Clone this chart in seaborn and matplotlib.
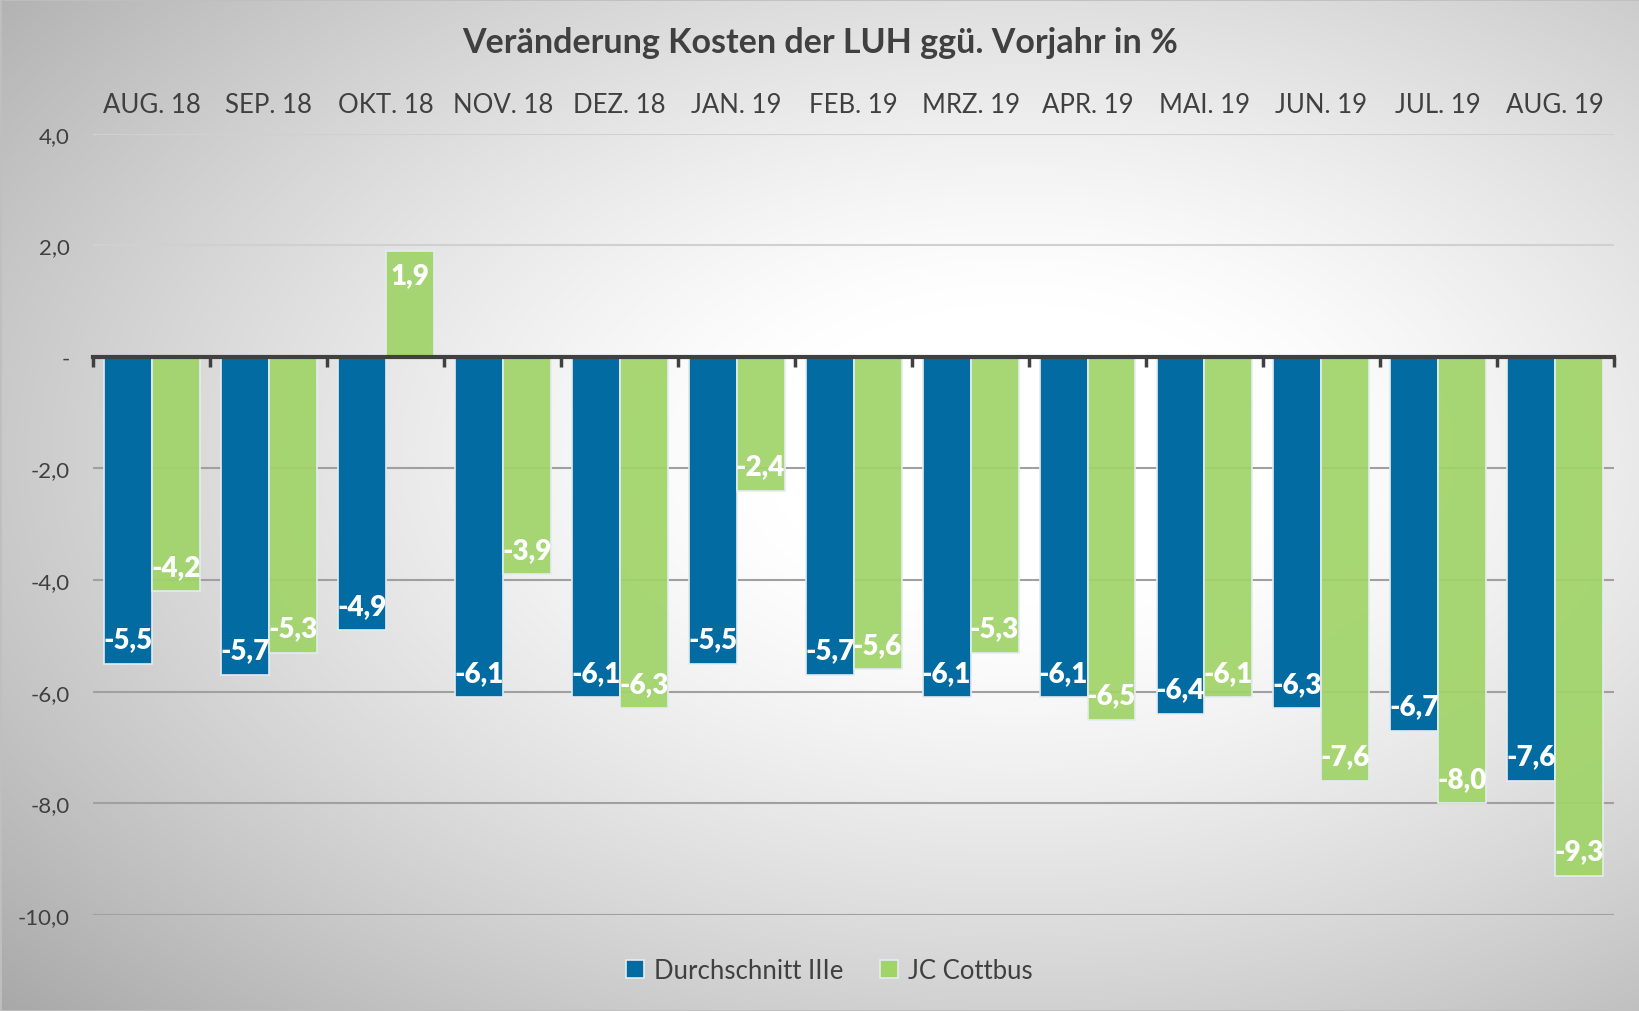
import numpy as np
import pandas as pd
import matplotlib
matplotlib.use("Agg")
import matplotlib.pyplot as plt
from matplotlib.patches import Rectangle
import seaborn as sns

# Daten
months = ["AUG. 18", "SEP. 18", "OKT. 18", "NOV. 18", "DEZ. 18", "JAN. 19", "FEB. 19",
          "MRZ. 19", "APR. 19", "MAI. 19", "JUN. 19", "JUL. 19", "AUG. 19"]
durchschnitt = [-5.5, -5.7, -4.9, -6.1, -6.1, -5.5, -5.7, -6.1, -6.1, -6.4, -6.3, -6.7, -7.6]
cottbus = [-4.2, -5.3, 1.9, -3.9, -6.3, -2.4, -5.6, -5.3, -6.5, -6.1, -7.6, -8.0, -9.3]
series_names = ["Durchschnitt IIIe", "JC Cottbus"]
y_ticks = [4, 2, 0, -2, -4, -6, -8, -10]


def de_fmt(v):
    """Zahl im deutschen Format, Null als Strich."""
    if abs(v) < 1e-9:
        return "-"
    return f"{v:.1f}".replace(".", ",")


df = pd.DataFrame({
    "Monat": months * 2,
    "Wert": durchschnitt + cottbus,
    "Reihe": [series_names[0]] * len(months) + [series_names[1]] * len(months),
})

sns.set_theme(style="white")
plt.rcParams["font.family"] = ["Lato", "DejaVu Sans"]
text_col = "#404040"
blue = "#026ba2"
green = "#a0d468"

fig = plt.figure(figsize=(16.4, 10.12), dpi=100)

# Hintergrund mit radialem Verlauf
bg = fig.add_axes([0, 0, 1, 1], zorder=-10)
yy, xx = np.mgrid[0:1:506j, 0:1:820j]
r = np.sqrt(((xx - 0.62) / 0.62) ** 2 + ((yy - 0.45) / 0.6) ** 2)
val = 1 - 0.3 * np.clip(r - 0.25, 0, None) ** 1.25
bg.imshow(np.dstack([val, val, val]), aspect="auto", extent=(0, 1, 0, 1), interpolation="bilinear")
bg.axis("off")

ax = fig.add_axes([0.057, 0.095, 0.927, 0.772])
ax.set_facecolor("none")

sns.barplot(data=df, x="Monat", y="Wert", hue="Reihe", palette=[blue, green],
            saturation=1, width=0.82, edgecolor="#e4ecf0", linewidth=1.2, ax=ax)

for patch in ax.containers[1]:
    patch.set_facecolor((0.627, 0.831, 0.408, 0.92))

for cont, vals in zip(ax.containers, [durchschnitt, cottbus]):
    ax.bar_label(cont, labels=[de_fmt(v) for v in vals], padding=-27,
                 color="white", fontweight="heavy", fontsize=20)

ax.set_ylim(-10, 4)
ax.set_xlim(-0.5, len(months) - 0.5)
ax.set_yticks(y_ticks)
ax.set_yticklabels([de_fmt(t) for t in y_ticks])
ax.set_xlabel("")
ax.set_ylabel("")

ax.yaxis.grid(True, color="#a0a0a0", linewidth=1.5)
for line, t in zip(ax.get_ygridlines(), y_ticks):
    if t > 0:
        line.set_color("#d0d0d0")
ax.set_axisbelow(True)

for s in ["top", "left", "right"]:
    ax.spines[s].set_visible(False)
ax.spines["bottom"].set_position(("data", 0))
ax.spines["bottom"].set_color(text_col)
ax.spines["bottom"].set_linewidth(3)
ax.spines["bottom"].set_zorder(5)

ax.set_xticks(np.arange(-0.5, len(months), 1), minor=True)
ax.tick_params(axis="x", which="major", bottom=False, top=False, length=0,
               labelbottom=False, labeltop=True, labelsize=18.5,
               labelcolor=text_col, pad=12)
ax.tick_params(axis="x", which="minor", bottom=True, top=False, direction="out",
               length=7, width=2.5, color=text_col)
ax.tick_params(axis="y", left=False, length=0, labelsize=16, labelcolor=text_col, pad=17)

sns.move_legend(ax, "center", bbox_to_anchor=(0.484, -0.071), ncol=2, frameon=False,
                title=None, fontsize=18.5, handlelength=0.7, handleheight=0.7,
                columnspacing=1.4, handletextpad=0.4)
for t in ax.get_legend().get_texts():
    t.set_color(text_col)

fig.text(0.5, 0.958, "Veränderung Kosten der LUH ggü. Vorjahr in %", ha="center", va="center",
         fontsize=24.5, fontweight="bold", color=text_col)

fig.patches.append(Rectangle((0, 0), 1, 1, transform=fig.transFigure, fill=False,
                             edgecolor="#bfbfbf", linewidth=2))

fig.savefig("out.png", dpi=100)
